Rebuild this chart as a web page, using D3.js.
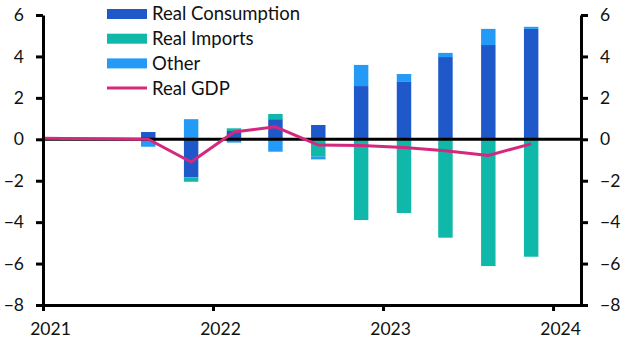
<!DOCTYPE html>
<html>
<head>
<meta charset="utf-8">
<script src="https://cdn.jsdelivr.net/npm/d3@7"></script>
<style>
  body { margin: 0; background: #fff; }
  text { font-family: "Lato", "Open Sans", sans-serif; fill: #111; }
</style>
</head>
<body>
<div id="chart"></div>
<script>
/* contributions to GDP, quarterly */

// quarter mid-points
const quarters = ["2021-08-15", "2021-11-15", "2022-02-15", "2022-05-15", "2022-08-15",
    "2022-11-15", "2023-02-15", "2023-05-15", "2023-08-15", "2023-11-15"];
const consumption = [0.35, -1.84, 0.40, 0.97, 0.69, 2.57, 2.77, 3.97, 4.55, 5.33];
const imports = [0.00, -0.21, 0.13, 0.25, -0.84, -3.90, -3.56, -4.75, -6.12, -5.67];
const other = [-0.36, 0.97, -0.16, -0.60, -0.13, 1.02, 0.38, 0.20, 0.78, 0.10];

// GDP line has a few earlier quarters
const gdpDates = ["2020-11-15", "2021-02-15", "2021-05-15", ...quarters];
const gdp = [0.05, 0.04, 0.03, 0.00, -1.10, 0.35, 0.60, -0.28, -0.30, -0.40, -0.55, -0.78, -0.22];

const yTicks = [-8, -6, -4, -2, 0, 2, 4, 6];
const xTicks = ["2021-01-01", "2022-01-01", "2023-01-01", "2024-01-01"];

const seriesNames = ["Real Consumption", "Real Imports", "Other"];
const colors = ["#1f58c9", "#0fb8a9", "#239af6"];
const lineColor = "#d4287f";

const parse = d3.timeParse("%Y-%m-%d");

const data = quarters.map((q, i) => ({
    date: parse(q),
    "Real Consumption": consumption[i],
    "Real Imports": imports[i],
    "Other": other[i]
}));
const lineData = gdpDates.map((d, i) => ({ date: parse(d), v: gdp[i] }));

const width = 627,
    height = 352,
    margin = ({ top: 15, right: 46, bottom: 47, left: 43 });

let svg = d3.select("#chart")
    .append("svg")
    .attr("width", width)
    .attr("height", height);

let x = d3.scaleTime()
    .domain([parse("2021-01-01"), parse("2024-03-01")])
    .range([margin.left, width - margin.right]);

let y = d3.scaleLinear()
    .domain([-8, 6])
    .range([height - margin.bottom, margin.top]);

// stack with positive / negative split
let stack = d3.stack()
    .keys(seriesNames)
    .offset(d3.stackOffsetDiverging);
let series = stack(data);

const barW = x(parse("2021-02-01")) - x(parse("2021-01-01"));

svg.append("defs").append("clipPath")
    .attr("id", "clip")
    .append("rect")
    .attr("x", margin.left)
    .attr("y", margin.top)
    .attr("width", width - margin.left - margin.right)
    .attr("height", height - margin.top - margin.bottom);

let groups = svg.selectAll(".series")
    .data(series)
    .join("g")
    .attr("class", "series")
    .attr("fill", (d, i) => colors[i]);

groups.selectAll("rect")
    .data(d => d)
    .join("rect")
    .attr("x", d => x(d.data.date) - barW / 2)
    .attr("width", barW)
    .attr("y", d => y(Math.max(d[0], d[1])))
    .attr("height", d => Math.abs(y(d[0]) - y(d[1])));

// zero line
svg.append("line")
    .attr("x1", margin.left)
    .attr("x2", width - margin.right)
    .attr("y1", y(0))
    .attr("y2", y(0))
    .attr("stroke", "#000")
    .attr("stroke-width", 3);

// GDP line
svg.append("path")
    .datum(lineData)
    .attr("clip-path", "url(#clip)")
    .attr("fill", "none")
    .attr("stroke", lineColor)
    .attr("stroke-width", 3)
    .attr("d", d3.line().x(d => x(d.date)).y(d => y(d.v)));

// axes
function styleAxis(g) {
    g.selectAll(".domain").attr("stroke-width", 3).attr("stroke", "#000");
    g.selectAll(".tick line").attr("stroke-width", 3).attr("stroke", "#000");
    g.selectAll(".tick text").attr("font-size", 17.5).attr("fill", "#111")
        .attr("font-family", "Lato, 'Open Sans', sans-serif");
}

svg.append("g")
    .attr("transform", `translate(${margin.left},0)`)
    .call(d3.axisLeft(y).tickValues(yTicks).tickSize(7).tickPadding(12).tickSizeOuter(0))
    .call(styleAxis);

svg.append("g")
    .attr("transform", `translate(${width - margin.right},0)`)
    .call(d3.axisRight(y).tickValues(yTicks).tickSize(7).tickPadding(12).tickSizeOuter(0))
    .call(styleAxis);

svg.append("g")
    .attr("transform", `translate(0,${height - margin.bottom})`)
    .call(d3.axisBottom(x).tickValues(xTicks.map(parse)).tickFormat(d3.timeFormat("%Y"))
        .tickSize(6).tickPadding(12).tickSizeOuter(0))
    .call(styleAxis)
    .call(g => g.selectAll(".tick text").attr("dx", 7));

// legend
const legendItems = [...seriesNames, "Real GDP"];
let legend = svg.selectAll(".legend")
    .data(legendItems)
    .join("g")
    .attr("class", "legend")
    .attr("transform", (d, i) => `translate(107,${14 + i * 24.7})`);

legend.filter((d, i) => i < 3).append("rect")
    .attr("x", 0)
    .attr("y", -5)
    .attr("width", 40)
    .attr("height", 10)
    .attr("fill", (d, i) => colors[i]);

legend.filter((d, i) => i === 3).append("line")
    .attr("x1", 0)
    .attr("x2", 40)
    .attr("stroke", lineColor)
    .attr("stroke-width", 3);

legend.append("text")
    .text(d => d)
    .attr("x", 45)
    .attr("dy", "0.35em")
    .attr("font-size", 18.5);
</script>
</body>
</html>
